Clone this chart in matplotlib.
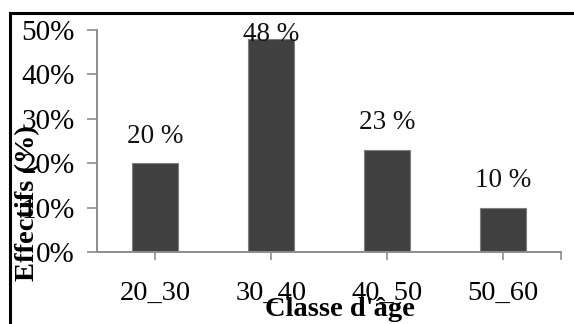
import matplotlib
matplotlib.use("Agg")
import matplotlib.pyplot as plt
from matplotlib.patches import Rectangle

categories = ["20_30", "30_40", "40_50", "50_60"]
values = [20, 48, 23, 10]
value_labels = ["20 %", "48 %", "23 %", "10 %"]
yticks = [0, 10, 20, 30, 40, 50]
ytick_labels = ["0%", "10%", "20%", "30%", "40%", "50%"]

W, H = 574, 324
fig = plt.figure(figsize=(W / 100, H / 100), dpi=100)
plt.rcParams["font.family"] = ["Liberation Serif", "DejaVu Serif"]

# outer black frame, running off the right and bottom edges
fig.patches.append(Rectangle((10 / W, -0.1), 1.2, 1 - 13 / H + 0.1,
                             transform=fig.transFigure, fill=False,
                             edgecolor="black", linewidth=2.2, zorder=0))

ax = fig.add_axes([97 / W, 72 / H, (561 - 97) / W, (294 - 72) / H])
x = list(range(len(categories)))
ax.bar(x, values, width=0.4, color="#404040", edgecolor="#7f7f7f", linewidth=0.8, zorder=2)

for xi, v, lab in zip(x, values, value_labels):
    ax.text(xi, min(v + 6.1, 49.0), lab, ha="center", va="center",
            fontsize=19.5, color="#111111", zorder=3)

ax.set_xlim(-0.5, 3.5)
ax.set_ylim(0, 50)
ax.set_xticks(x)
ax.set_xticklabels(categories, fontsize=20.5)
ax.set_yticks(yticks)
ax.set_yticklabels(ytick_labels, fontsize=21)
ax.tick_params(axis="x", length=6, width=1.2, color="#8c8c8c", pad=15)
ax.tick_params(axis="y", length=7, width=1.2, color="#8c8c8c", pad=9)

for s in ["top", "right"]:
    ax.spines[s].set_visible(False)
for s in ["left", "bottom"]:
    ax.spines[s].set_color("#8c8c8c")
    ax.spines[s].set_linewidth(1.4)

# closing tick at the right end of the category axis
ax.plot([3.5, 3.5], [0, -1.5], color="#8c8c8c", lw=1.2, clip_on=False)

fig.text(340 / W, 1 - 309 / H, "Classe d'âge", ha="center", va="center",
         fontsize=20.5, fontweight="bold")
fig.text(28 / W, 1 - 203 / H, "Effectifs (%)", ha="center", va="center",
         rotation=90, fontsize=20.5, fontweight="bold")

fig.savefig("out.png", dpi=100)
